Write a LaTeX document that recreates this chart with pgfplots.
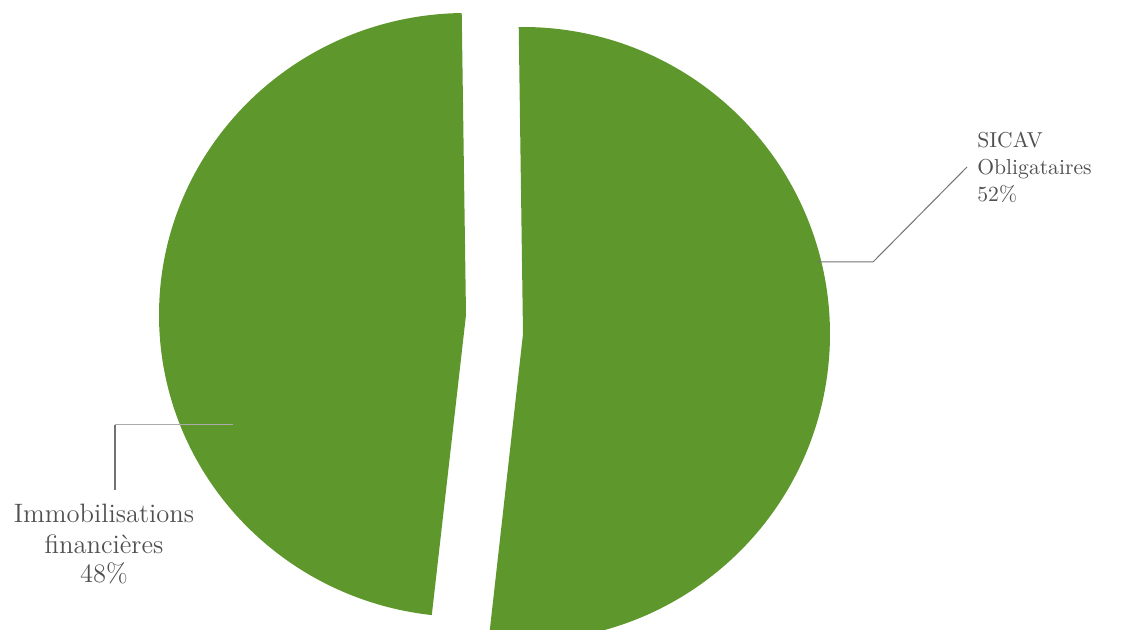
\documentclass[border=0pt]{standalone}
\usepackage{pgfplots}
\pgfplotsset{compat=1.18}
\definecolor{piegreen}{RGB}{94,152,44}
\definecolor{labelgray}{RGB}{80,80,80}
\definecolor{leader}{RGB}{115,115,115}
\begin{document}
\begin{tikzpicture}
% slice shares in percent
\def\valImmo{48}
\def\valSicav{52}
\pgfmathsetmacro{\startA}{90.8}
\pgfmathsetmacro{\endA}{\startA+3.6*\valImmo}
\pgfmathsetmacro{\endB}{\endA+3.6*\valSicav}
\begin{axis}[
    scale only axis,
    width=562pt, height=315pt,
    xmin=0, xmax=1124, ymin=0, ymax=630,
    hide axis,
    clip=true,
]
    % Immobilisations financieres
    \fill[piegreen] (axis cs:466,315) -- ++(\startA:153.5pt and 151pt)
        arc[start angle=\startA, end angle=\endA, x radius=153.5pt, y radius=151pt] -- cycle;
    % SICAV obligataires (exploded)
    \fill[piegreen] (axis cs:523,296) -- ++(\endA:153.5pt and 153.5pt)
        arc[start angle=\endA, end angle=\endB, x radius=153.5pt, y radius=153.5pt] -- cycle;

    % leader lines
    \draw[leader, line width=0.5pt] (axis cs:817,368) -- (axis cs:873,368) -- (axis cs:967,463);
    \draw[leader!60, line width=0.5pt] (axis cs:233,205) -- (axis cs:115,205);
    \draw[leader, line width=0.6pt] (axis cs:115,205) -- (axis cs:115,140);

    % labels
    \begin{scope}[every node/.style={inner sep=0pt, text=labelgray, font=\fontsize{10.8}{13}\selectfont}]
        \node[anchor=base west] at (axis cs:977,482) {SICAV};
        \node[anchor=base west] at (axis cs:977,455) {Obligataires};
        \node[anchor=base west] at (axis cs:977,428) {52\%};
    \end{scope}
    \begin{scope}[every node/.style={inner sep=0pt, text=labelgray, font=\fontsize{13.3}{16}\selectfont}]
        \node[anchor=base] at (axis cs:104,107) {Immobilisations};
        \node[anchor=base] at (axis cs:104,76) {financières};
        \node[anchor=base] at (axis cs:104,47) {48\%};
    \end{scope}
\end{axis}
\pgfresetboundingbox
\useasboundingbox (current axis.south west) rectangle (current axis.north east);
\end{tikzpicture}
\end{document}
